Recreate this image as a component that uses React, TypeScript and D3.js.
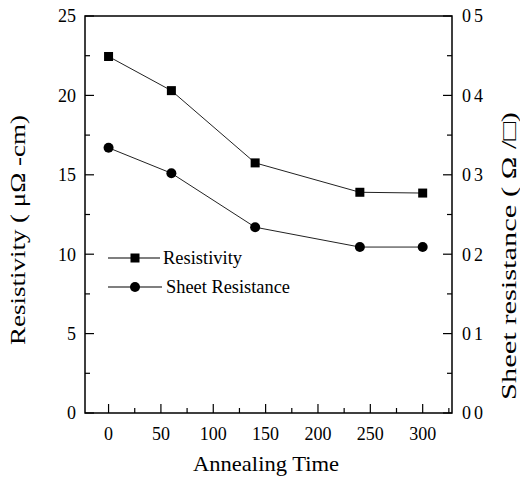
import React from 'react';
import * as d3 from 'd3';

const times = [0, 60, 140, 240, 300];
const resistivity = [22.45, 20.3, 15.75, 13.9, 13.85];
const sheetResistance = [0.334, 0.302, 0.234, 0.209, 0.209];
const xTicks = [0, 50, 100, 150, 200, 250, 300];
const leftTicks = [0, 5, 10, 15, 20, 25];
const rightTicks = [0, 0.1, 0.2, 0.3, 0.4, 0.5];
const rightLabels = ['0 0', '0 1', '0 2', '0 3', '0 4', '0 5'];

const W = 520;
const H = 481;
const m = {left: 85, right: 452, top: 16, bottom: 413};
const font = '"Liberation Serif", "Times New Roman", serif';

const App = () => {
  const x = d3.scaleLinear().domain([-22.5, 328]).range([m.left, m.right]);
  const yL = d3.scaleLinear().domain([0, 25]).range([m.bottom, m.top]);
  const yR = d3.scaleLinear().domain([0, 0.5]).range([m.bottom, m.top]);

  const lineL = d3.line<number>().x((d, i) => x(times[i])).y(d => yL(d));
  const lineR = d3.line<number>().x((d, i) => x(times[i])).y(d => yR(d));

  const xMinor = d3.range(-25, 330, 25).filter(v => v % 50 !== 0 && x(v) > m.left);
  const leftMinor = d3.range(2.5, 25, 5);
  const rightMinor = d3.range(0.05, 0.5, 0.1);

  return (
    <svg width={W} height={H} style={{position: 'absolute', left: 0, top: 0}}>
      <rect width={W} height={H} fill="#fff" />
      <g stroke="#000" fill="none">
        <path d={`M${m.left},${m.top}H${m.right}V${m.bottom}H${m.left}Z`} strokeWidth={1.5} />
        {xTicks.map(t => (
          <line key={'x' + t} x1={x(t)} x2={x(t)} y1={m.bottom} y2={m.bottom - 9} strokeWidth={1.2} />
        ))}
        {xMinor.map(t => (
          <line key={'xm' + t} x1={x(t)} x2={x(t)} y1={m.bottom} y2={m.bottom - 5} strokeWidth={1.2} />
        ))}
        {leftTicks.map(t => (
          <line key={'l' + t} x1={m.left} x2={m.left + 9} y1={yL(t)} y2={yL(t)} strokeWidth={1.2} />
        ))}
        {leftMinor.map(t => (
          <line key={'lm' + t} x1={m.left} x2={m.left + 5} y1={yL(t)} y2={yL(t)} strokeWidth={1.2} />
        ))}
        {rightTicks.map(t => (
          <line key={'r' + t} x1={m.right} x2={m.right - 9} y1={yR(t)} y2={yR(t)} strokeWidth={1.2} />
        ))}
        {rightMinor.map(t => (
          <line key={'rm' + t} x1={m.right} x2={m.right - 5} y1={yR(t)} y2={yR(t)} strokeWidth={1.2} />
        ))}
      </g>
      <g fontFamily={font} fontSize={18} fill="#000">
        {leftTicks.map(t => (
          <text key={'lt' + t} x={m.left - 9} y={yL(t)} dy="0.35em" textAnchor="end">{t}</text>
        ))}
        {rightTicks.map((t, i) => (
          <text key={'rt' + t} x={m.right + 10} y={yR(t)} dy="0.35em" textLength={21} lengthAdjust="spacing">{rightLabels[i]}</text>
        ))}
        {xTicks.map(t => (
          <text key={'xt' + t} x={x(t)} y={440} textAnchor="middle">{t}</text>
        ))}
        <text x={266} y={471} fontSize={21} textAnchor="middle" textLength={146} lengthAdjust="spacingAndGlyphs">Annealing Time</text>
        <text transform="translate(25,230) rotate(-90)" fontSize={21} textAnchor="middle" textLength={230} lengthAdjust="spacingAndGlyphs">Resistivity ( μΩ -cm)</text>
        <text transform="translate(516,256) rotate(-90)" fontSize={21} textAnchor="middle" textLength={288} lengthAdjust="spacingAndGlyphs">Sheet resistance ( Ω /□)</text>
      </g>
      <path d={lineL(resistivity) || ''} fill="none" stroke="#222" strokeWidth={1} />
      <path d={lineR(sheetResistance) || ''} fill="none" stroke="#222" strokeWidth={1} />
      {resistivity.map((v, i) => (
        <rect key={'sq' + i} x={x(times[i]) - 4.5} y={yL(v) - 4.5} width={9} height={9} fill="#000" />
      ))}
      {sheetResistance.map((v, i) => (
        <circle key={'c' + i} cx={x(times[i])} cy={yR(v)} r={5} fill="#000" />
      ))}
      <g fontFamily={font} fontSize={18} fill="#000">
        <line x1={108} x2={160} y1={258} y2={258} stroke="#000" strokeWidth={1.2} />
        <rect x={130.5} y={253.5} width={9} height={9} fill="#000" />
        <text x={163} y={264} textLength={79} lengthAdjust="spacingAndGlyphs">Resistivity</text>
        <line x1={108} x2={162} y1={287} y2={287} stroke="#000" strokeWidth={1.2} />
        <circle cx={135} cy={287} r={5} fill="#000" />
        <text x={166} y={293} textLength={124} lengthAdjust="spacingAndGlyphs">Sheet Resistance</text>
      </g>
    </svg>
  );
};

export default App;
